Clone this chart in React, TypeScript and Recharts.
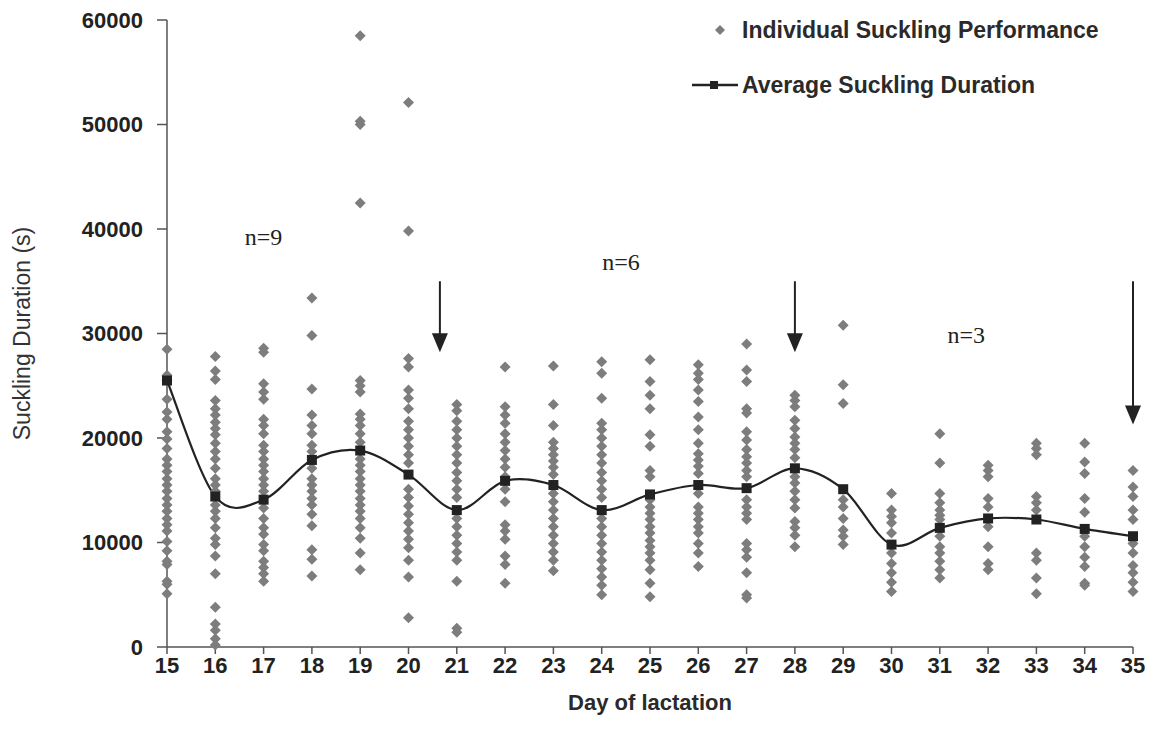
import React from 'react';
import {
  ComposedChart, Scatter, Line, XAxis, YAxis, ReferenceLine, ReferenceDot,
} from 'recharts';

const days = [15, 16, 17, 18, 19, 20, 21, 22, 23, 24, 25, 26, 27, 28, 29, 30, 31, 32, 33, 34, 35];

// individual suckling durations (s), one row per day of lactation
const individual = [
  [28500, 26000, 25500, 23700, 22500, 21800, 20600, 19900, 19000, 18000, 17400, 16800, 16100, 15500, 14900, 14200, 13600, 13000, 12300, 11700, 11100, 10100, 9200, 8200, 7900, 6300, 6000, 5100],
  [27800, 26400, 25600, 23600, 22800, 22200, 21500, 20900, 20300, 19500, 18700, 18000, 17100, 16100, 15500, 14900, 13600, 13000, 12300, 11400, 10400, 9800, 8700, 7000, 3800, 2200, 1600, 800, 200],
  [28600, 28200, 25200, 24400, 23700, 21800, 21200, 20400, 19300, 18700, 18000, 17400, 16800, 16100, 15500, 14900, 13300, 12300, 11400, 10800, 9800, 9200, 8200, 7600, 7000, 6300],
  [33400, 29800, 24700, 22200, 21200, 20400, 19300, 18700, 17100, 16100, 15500, 14900, 14200, 13600, 12700, 11600, 9300, 8400, 6800],
  [58500, 50300, 50000, 42500, 25500, 25000, 24400, 22300, 21800, 21200, 20400, 19600, 18000, 17400, 16800, 16100, 15500, 14900, 14200, 13600, 13000, 12300, 11400, 10400, 9000, 7400],
  [52100, 39800, 27600, 26800, 24600, 23800, 22800, 21600, 20800, 20000, 19200, 18400, 17600, 15100, 14300, 13500, 12700, 11900, 11100, 10300, 9500, 8300, 6700, 2800],
  [23200, 22600, 21600, 20800, 20000, 19200, 18400, 17600, 16700, 15900, 15100, 14300, 12300, 11500, 10700, 9900, 9100, 8300, 6300, 1800, 1400],
  [26800, 23000, 22200, 21400, 20400, 19600, 18800, 18000, 17200, 16300, 15100, 13900, 11700, 11100, 10300, 8700, 7900, 6100],
  [26900, 23200, 21200, 19600, 19000, 18400, 17800, 17200, 16500, 14700, 13900, 13100, 12300, 11500, 10700, 9900, 9100, 8300, 7300],
  [27300, 26200, 23800, 21400, 20800, 20000, 19200, 18400, 17600, 16700, 15900, 15100, 14300, 12300, 11500, 10700, 9900, 9100, 8300, 7500, 6700, 5900, 5000],
  [27500, 25400, 24100, 22800, 20300, 19200, 16900, 16300, 14100, 13400, 12800, 12200, 11500, 10900, 10200, 9600, 9000, 8300, 7400, 6100, 4800],
  [27000, 26200, 25600, 24600, 23500, 22000, 20800, 19500, 18500, 17900, 17300, 16600, 14700, 13400, 12800, 12200, 11500, 10900, 9900, 9000, 7700],
  [29000, 26500, 25400, 22800, 22400, 20600, 19800, 18900, 18200, 17600, 16900, 16300, 14100, 13400, 12800, 12200, 9900, 9300, 8600, 7100, 5000, 4700],
  [24100, 23600, 23000, 21700, 20900, 20100, 19500, 18900, 18100, 16300, 15700, 14900, 14100, 13300, 12000, 11400, 10700, 9600],
  [30800, 25100, 23300, 14100, 13400, 12300, 11200, 10600, 9800],
  [14700, 13100, 12500, 11900, 10900, 9000, 8000, 7100, 6200, 5300],
  [20400, 17600, 14700, 13800, 13100, 12600, 12200, 10600, 9600, 9000, 8200, 7400, 6600],
  [17400, 16900, 16300, 14200, 13400, 11500, 9600, 8000, 7400],
  [19500, 19000, 18400, 14400, 13800, 13100, 9000, 8300, 6600, 5100],
  [19500, 17700, 16600, 14200, 12900, 10600, 9600, 8600, 7700, 6100, 5900],
  [16900, 15300, 14400, 13100, 12200, 9900, 9000, 7800, 7100, 6200, 5300],
];

const average = [25500, 14400, 14100, 17900, 18800, 16500, 13100, 15900, 15500, 13100, 14600, 15500, 15200, 17100, 15100, 9800, 11400, 12300, 12200, 11300, 10600];

const yTicks = [0, 10000, 20000, 30000, 40000, 50000, 60000];

// weaning arrows and group sizes
const arrowDays = [20.65, 28, 35];
const arrowTop = [35000, 35000, 35000];
const arrowTip = [28200, 28200, 21300];
const groupLabels = ['n=9', 'n=6', 'n=3'];
const groupDays = [17, 24.4, 31.55];
const groupValues = [39200, 36800, 29900];

const points = days.flatMap((d, i) => individual[i].map(v => ({ day: d, value: v })));
const avgData = days.map((d, i) => ({ day: d, value: average[i] }));

const SANS = '"Liberation Sans", Arial, sans-serif';
const SERIF = '"Liberation Serif", "Times New Roman", serif';
const POINT = '#7d7d7d';
const INK = '#222';

// Excel-like smoothed line (Catmull-Rom through the points)
function excelCurve(context: any) {
  let pts: number[][] = [];
  return {
    areaStart() {},
    areaEnd() {},
    lineStart() { pts = []; },
    point(x: number, y: number) { pts.push([+x, +y]); },
    lineEnd() {
      if (!pts.length) return;
      context.moveTo(pts[0][0], pts[0][1]);
      for (let i = 0; i < pts.length - 1; i++) {
        const p0 = pts[i - 1] || pts[i];
        const p1 = pts[i];
        const p2 = pts[i + 1];
        const p3 = pts[i + 2] || p2;
        context.bezierCurveTo(
          p1[0] + (p2[0] - p0[0]) / 6, p1[1] + (p2[1] - p0[1]) / 6,
          p2[0] - (p3[0] - p1[0]) / 6, p2[1] - (p3[1] - p1[1]) / 6,
          p2[0], p2[1],
        );
      }
    },
  };
}

const Diamond = (props: any) => {
  const { cx, cy } = props;
  const s = 5.5;
  return <polygon points={`${cx},${cy - s} ${cx + s},${cy} ${cx},${cy + s} ${cx - s},${cy}`} fill={POINT} />;
};

const SquareDot = (props: any) => {
  const { cx, cy, index } = props;
  return <rect key={index} x={cx - 5} y={cy - 5} width={10} height={10} fill={INK} />;
};

const ArrowHead = (props: any) => {
  const { cx, cy } = props;
  return <polygon points={`${cx - 8},${cy - 19} ${cx + 8},${cy - 19} ${cx},${cy}`} fill={INK} />;
};

const LegendBox = () => (
  <div style={{ position: 'absolute', left: 690, top: 14, fontFamily: SANS, fontWeight: 'bold', fontSize: 23, color: '#2a2a2a' }}>
    <div style={{ display: 'flex', alignItems: 'center', height: 32 }}>
      <svg width={52} height={20}>
        <polygon points="30,5 35,10 30,15 25,10" fill={POINT} />
      </svg>
      <span>Individual Suckling Performance</span>
    </div>
    <div style={{ display: 'flex', alignItems: 'center', height: 32, marginTop: 23 }}>
      <svg width={52} height={20}>
        <line x1={2} y1={10} x2={48} y2={10} stroke={INK} strokeWidth={2.5} />
        <rect x={20} y={6} width={8} height={8} fill={INK} />
      </svg>
      <span>Average Suckling Duration</span>
    </div>
  </div>
);

const YTitle = (props: any) => {
  const vb = props.viewBox || {};
  const cx = 22;
  const cy = (vb.y || 0) + (vb.height || 0) / 2;
  return (
    <text x={cx} y={cy} transform={`rotate(-90, ${cx}, ${cy})`} textAnchor="middle" dominantBaseline="central"
      fontFamily={SANS} fontSize={23} fill="#333">
      Suckling Duration (s)
    </text>
  );
};

const XTitle = (props: any) => {
  const vb = props.viewBox || {};
  const cx = (vb.x || 0) + (vb.width || 0) / 2;
  return (
    <text x={cx} y={710} textAnchor="middle" fontFamily={SANS} fontSize={22} fontWeight="bold" fill="#2a2a2a">
      Day of lactation
    </text>
  );
};

export default function App() {
  return (
    <div style={{ position: 'absolute', left: 0, top: 0, width: 1154, height: 743, background: '#fff' }}>
      <ComposedChart width={1154} height={743} margin={{ top: 20, right: 21, bottom: 26, left: 0 }}>
        <XAxis
          type="number" dataKey="day" domain={[15, 35]} ticks={days} interval={0}
          stroke="#555" strokeWidth={1.5} tickSize={7} tickMargin={3} height={70}
          tick={{ fill: '#222', fontSize: 22, fontWeight: 'bold', fontFamily: SANS }}
          label={<XTitle />}
        />
        <YAxis
          type="number" dataKey="value" domain={[0, 60000]} ticks={yTicks} interval={0}
          stroke="#555" strokeWidth={1.5} tickSize={10} tickMargin={14} width={167}
          tick={{ fill: '#222', fontSize: 22, fontWeight: 'bold', fontFamily: SANS }}
          label={<YTitle />}
        />
        <Scatter name="Individual Suckling Performance" data={points} dataKey="value" shape={<Diamond />} isAnimationActive={false} />
        <Line
          name="Average Suckling Duration" data={avgData} dataKey="value" type={excelCurve as any}
          stroke={INK} strokeWidth={2.2} dot={<SquareDot />} activeDot={false} isAnimationActive={false}
        />
        {arrowDays.map((d, i) => (
          <ReferenceLine key={`al${i}`} segment={[{ x: d, y: arrowTop[i] }, { x: d, y: arrowTip[i] + 1500 }]} stroke={INK} strokeWidth={2} ifOverflow="visible" />
        ))}
        {arrowDays.map((d, i) => (
          <ReferenceDot key={`ah${i}`} x={d} y={arrowTip[i]} shape={<ArrowHead />} ifOverflow="visible" />
        ))}
        {groupLabels.map((t, i) => (
          <ReferenceDot key={`n${i}`} x={groupDays[i]} y={groupValues[i]} ifOverflow="visible"
            shape={(p: any) => (
              <text x={p.cx} y={p.cy} textAnchor="middle" dominantBaseline="central" fontFamily={SERIF} fontSize={24} fill="#222">{t}</text>
            )}
          />
        ))}
      </ComposedChart>
      <LegendBox />
    </div>
  );
}
